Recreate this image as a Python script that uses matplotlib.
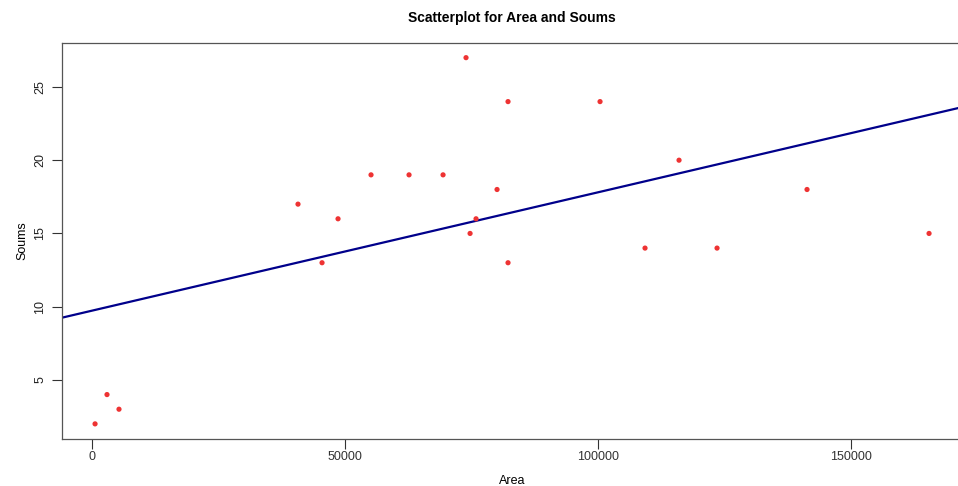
import matplotlib
matplotlib.use("Agg")
import matplotlib.pyplot as plt
import numpy as np

plt.rcParams['font.family'] = ['Liberation Sans', 'DejaVu Sans']

# Dados
area = [700, 3060, 5430, 40800, 45550, 48710, 55230, 62740, 69460, 74000,
        74800, 75980, 80130, 82300, 82300, 100480, 109370, 116090, 123600,
        141380, 165490]
soums = [2, 4, 3, 17, 13, 16, 19, 19, 19, 27,
         15, 16, 18, 24, 13, 24, 14, 20, 14,
         18, 15]

x_ticks = [0, 50000, 100000, 150000]
y_ticks = [5, 10, 15, 20, 25]

fig = plt.figure(figsize=(9.58, 4.86), dpi=100)
ax = fig.add_axes([0.0644, 0.0977, 0.9402, 0.8138])

ax.scatter(area, soums, s=14, color='#EE3333', edgecolors='none', zorder=3)

# Linha de regressão (lm)
slope, intercept = np.polyfit(area, soums, 1)
xr = np.array([-10000, 200000])
ax.plot(xr, intercept + slope * xr, color='#00008B', lw=1.6, zorder=2)

# Limites estilo R (4% de margem)
xpad = (max(area) - min(area)) * 0.04
ypad = (max(soums) - min(soums)) * 0.04
ax.set_xlim(min(area) - xpad, max(area) + xpad)
ax.set_ylim(min(soums) - ypad, max(soums) + ypad)

ax.set_xticks(x_ticks)
ax.set_xticklabels([str(t) for t in x_ticks])
ax.set_yticks(y_ticks)
ax.set_yticklabels([str(t) for t in y_ticks], rotation=90, va='center')
ax.tick_params(direction='out', length=7, width=0.8, colors='#333333',
               labelsize=9)
ax.tick_params(axis='x', pad=2)
ax.tick_params(axis='y', pad=4, labelcolor='#222222')

for sp in ax.spines.values():
    sp.set_color('#555555')
    sp.set_linewidth(0.9)

ax.set_xlabel('Area', fontsize=9)
ax.xaxis.set_label_coords(0.5, -0.092)
ax.set_ylabel('Soums', fontsize=9)
ax.yaxis.set_label_coords(-0.037, 0.5)
ax.set_title('Scatterplot for Area and Soums', fontsize=10, fontweight='bold', pad=15)

fig.savefig("out.png", dpi=100)
